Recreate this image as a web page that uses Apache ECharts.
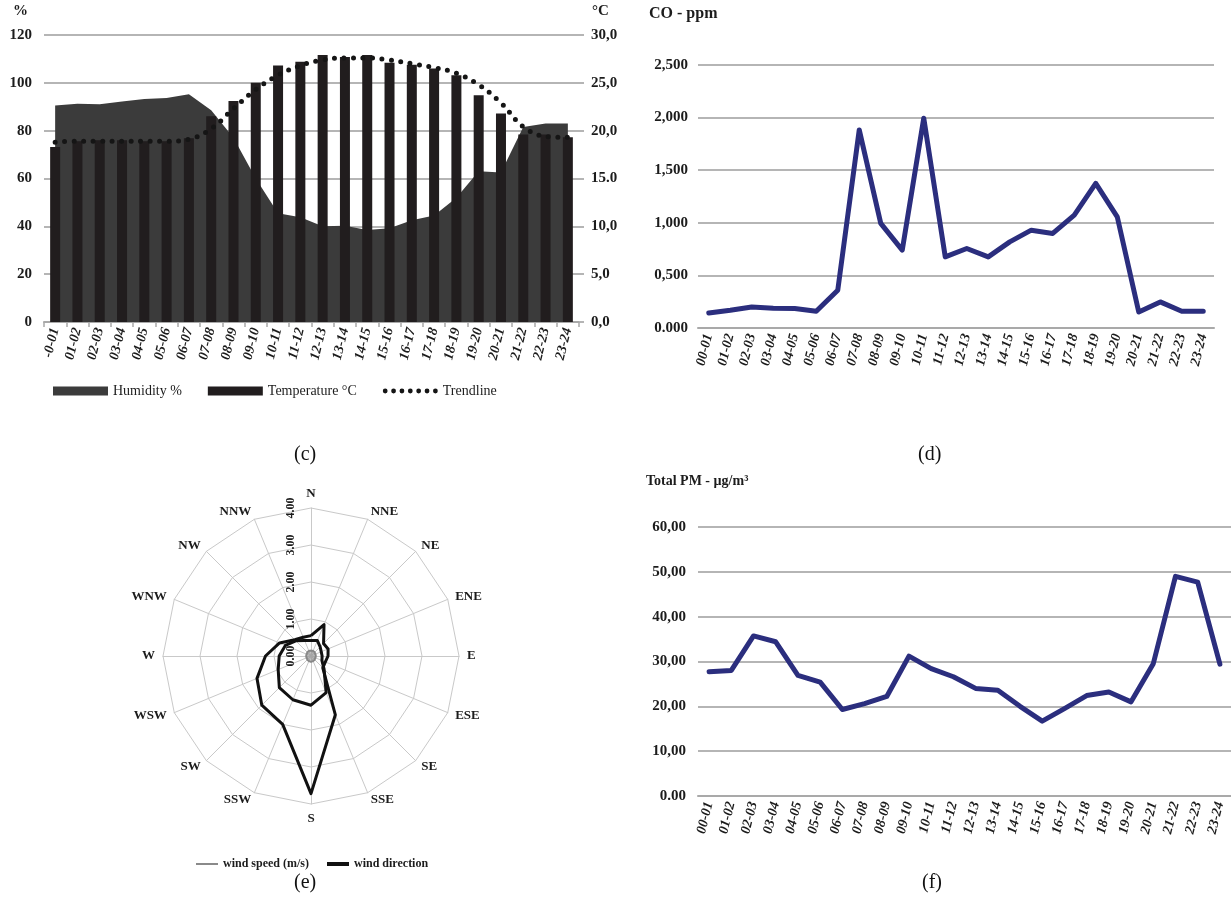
<!DOCTYPE html>
<html>
<head>
<meta charset="utf-8">
<script src="https://cdn.jsdelivr.net/npm/echarts@6/dist/echarts.min.js"></script>
<style>
  html, body { margin: 0; padding: 0; background: #ffffff; }
  #chart { width: 1231px; height: 912px; }
</style>
</head>
<body>
<div id="chart"></div>
<script>
// ---- hourly slots ----
const hourSlotsMeteo = ['-0-01','01-02','02-03','03-04','04-05','05-06','06-07','07-08','08-09','09-10','10-11','11-12',
                        '12-13','13-14','14-15','15-16','16-17','17-18','18-19','19-20','20-21','21-22','22-23','23-24'];
const hourSlots = ['00-01','01-02','02-03','03-04','04-05','05-06','06-07','07-08','08-09','09-10','10-11','11-12',
                   '12-13','13-14','14-15','15-16','16-17','17-18','18-19','19-20','20-21','21-22','22-23','23-24'];

// ---- (c) humidity / temperature ----
const humidity = [90.5, 91.3, 91.0, 92.2, 93.2, 93.7, 95.2, 88.5, 77.0, 60.0, 45.5, 43.8,
                  40.0, 40.2, 38.5, 39.2, 42.5, 44.5, 52.0, 63.0, 62.5, 81.5, 83.0, 83.0];
const temperature = [18.3, 18.9, 19.0, 19.0, 18.9, 18.9, 19.2, 21.5, 23.1, 25.0, 26.8, 27.2,
                     27.9, 27.7, 27.9, 27.1, 26.9, 26.5, 25.8, 23.7, 21.8, 19.6, 19.6, 19.3];
const tempTrend = [18.8, 18.9, 18.9, 18.9, 18.9, 18.9, 19.1, 20.2, 22.3, 24.3, 25.8, 26.8,
                   27.4, 27.6, 27.6, 27.4, 27.0, 26.6, 26.0, 24.8, 22.9, 20.4, 19.4, 19.3];
const humidityTicks = ['0', '20', '40', '60', '80', '100', '120'];
const tempTicks = ['0,0', '5,0', '10,0', '15.0', '20,0', '25,0', '30,0'];

// ---- (d) CO ----
const coPpm = [0.143, 0.169, 0.200, 0.188, 0.185, 0.159, 0.359, 1.883, 0.994, 0.740, 1.994, 0.676,
               0.756, 0.676, 0.819, 0.930, 0.899, 1.073, 1.375, 1.057, 0.152, 0.248, 0.159, 0.159];
const coTicks = ['0.000', '0,500', '1,000', '1,500', '2,000', '2,500'];

// ---- (f) total PM ----
const totalPm = [27.7, 28.0, 35.7, 34.4, 26.9, 25.4, 19.3, 20.6, 22.2, 31.2, 28.4, 26.6,
                 24.0, 23.6, 20.0, 16.7, 19.5, 22.4, 23.2, 21.0, 29.5, 49.0, 47.7, 29.4];
const pmTicks = ['0.00', '10,00', '20,00', '30,00', '40,00', '50,00', '60,00'];

// ---- (e) wind rose (compass order, clockwise from N) ----
const compassPoints = ['N','NNE','NE','ENE','E','ESE','SE','SSE','S','SSW','SW','WSW','W','WNW','NW','NNW'];
const windSpeed   = [0.15, 0.15, 0.14, 0.13, 0.13, 0.13, 0.14, 0.15, 0.16, 0.15, 0.14, 0.13, 0.13, 0.13, 0.14, 0.15];
const windDirOuter = [0.55, 0.92, 0.48, 0.50, 0.46, 0.42, 0.45, 1.72, 3.72, 2.00, 1.88, 1.58, 1.23, 0.92, 0.62, 0.55];
const windDirInner = [0.42, 0.45, 0.35, 0.30, 0.30, 0.32, 0.50, 1.07, 1.33, 1.28, 1.21, 0.96, 0.86, 0.75, 0.58, 0.45];
const radarTicks = ['0.00', '1.00', '2.00', '3.00', '4.00'];

// ---- styling ----
const serif = '"Liberation Serif", "Times New Roman", serif';
const ink = '#1c1c1c';
const gridGray = '#b5b5b5';
const navy = '#2b2e7e';

// radar indicators run counter-clockwise, so walk the compass backwards
const ccwOrder = compassPoints.map((_, i) => (16 - i) % 16);
const ccw = arr => ccwOrder.map(k => arr[k]);

// legend glyphs
function dotRow(n, w, h, r) {
  let p = 'path://M0,0M' + w + ',' + h;
  const step = (w - 2 * r) / (n - 1);
  for (let i = 0; i < n; i++) {
    const cx = r + i * step, cy = h / 2;
    p += 'M' + (cx - r) + ',' + cy + 'a' + r + ',' + r + ' 0 1,0 ' + (2 * r) + ',0a' + r + ',' + r + ' 0 1,0 ' + (-2 * r) + ',0Z';
  }
  return p;
}
function bar(w, h, t) {
  const y0 = (h - t) / 2, y1 = y0 + t;
  return 'path://M0,0M' + w + ',' + h + 'M0,' + y0 + 'L' + w + ',' + y0 + 'L' + w + ',' + y1 + 'L0,' + y1 + 'Z';
}

function tickLabelStyle(labels, extra) {
  return Object.assign({
    color: ink, fontFamily: serif, fontWeight: 'bold', fontSize: 15,
    formatter: (v, i) => labels[i]
  }, extra || {});
}
function hourAxis(gridIndex, cats, ticks) {
  return {
    type: 'category', gridIndex, data: cats,
    axisLine: { show: true, lineStyle: { color: '#a9a9a9', width: 2 } },
    axisTick: { show: ticks, interval: 0, length: 5, lineStyle: { color: '#a9a9a9', width: 1.5 } },
    axisLabel: { interval: 0, rotate: 76, margin: 6, color: ink, fontFamily: serif,
                 fontWeight: 'bold', fontStyle: 'italic', fontSize: 14 },
    splitLine: { show: false }
  };
}

const titleBase = { padding: 0, textStyle: { fontFamily: serif, color: ink, fontWeight: 'bold', fontSize: 15 } };
const caption = (text, left, top) => ({ text, left, top, padding: 0,
  textStyle: { fontFamily: serif, color: '#111', fontWeight: 'normal', fontSize: 20 } });

const option = {
  animation: false,
  backgroundColor: '#ffffff',
  title: [
    Object.assign({ text: '%', left: 13, top: 4 }, titleBase),
    Object.assign({ text: '°C', left: 592, top: 4 }, titleBase),
    Object.assign({}, titleBase, { text: 'CO - ppm', left: 649, top: 6, textStyle: Object.assign({}, titleBase.textStyle, { fontSize: 16 }) }),
    Object.assign({}, titleBase, { text: 'Total PM - µg/m³', left: 646, top: 474, textStyle: Object.assign({}, titleBase.textStyle, { fontSize: 14 }) }),
    caption('(c)', 294, 445),
    caption('(d)', 918, 445),
    caption('(e)', 294, 873),
    caption('(f)', 922, 873)
  ],
  legend: [
    {
      left: 48, top: 379, orient: 'horizontal', selectedMode: false,
      itemWidth: 55, itemHeight: 9, itemGap: 26,
      textStyle: { fontFamily: serif, fontSize: 14, color: ink },
      data: [
        { name: 'Humidity %', icon: 'rect' },
        { name: 'Temperature °C', icon: 'rect' },
        { name: 'Trendline', icon: dotRow(7, 55, 9, 2.4) }
      ]
    },
    {
      left: 191, top: 853, orient: 'horizontal', selectedMode: false,
      itemWidth: 22, itemHeight: 5, itemGap: 18,
      textStyle: { fontFamily: serif, fontSize: 12, fontWeight: 'bold', color: ink },
      data: [
        { name: 'wind speed (m/s)', icon: bar(22, 5, 2), itemStyle: { color: '#8a8a8a' } },
        { name: 'wind direction', icon: bar(22, 5, 4), itemStyle: { color: '#111111' } }
      ]
    }
  ],
  grid: [
    { left: 44, top: 35, width: 535, height: 287, outerBoundsMode: 'none' },
    { left: 698, top: 65, width: 516, height: 263, outerBoundsMode: 'none' },
    { left: 698, top: 527, width: 533, height: 269, outerBoundsMode: 'none' }
  ],
  xAxis: [
    hourAxis(0, hourSlotsMeteo, true),
    hourAxis(1, hourSlots, false),
    hourAxis(2, hourSlots, false)
  ],
  yAxis: [
    { type: 'value', gridIndex: 0, min: 0, max: 120, interval: 20, position: 'left',
      axisLine: { show: false }, axisTick: { show: false },
      axisLabel: tickLabelStyle(humidityTicks, { margin: 12 }),
      splitLine: { show: true, lineStyle: { color: gridGray, width: 2 } } },
    { type: 'value', gridIndex: 0, min: 0, max: 30, interval: 5, position: 'right',
      axisLine: { show: false }, axisTick: { show: true, length: 5, lineStyle: { color: gridGray, width: 2 } },
      axisLabel: tickLabelStyle(tempTicks, { margin: 12 }),
      splitLine: { show: false } },
    { type: 'value', gridIndex: 1, min: 0, max: 2.5, interval: 0.5,
      axisLine: { show: false }, axisTick: { show: false },
      axisLabel: tickLabelStyle(coTicks, { margin: 10 }),
      splitLine: { show: true, lineStyle: { color: gridGray, width: 2 } } },
    { type: 'value', gridIndex: 2, min: 0, max: 60, interval: 10,
      axisLine: { show: false }, axisTick: { show: false },
      axisLabel: tickLabelStyle(pmTicks, { margin: 12 }),
      splitLine: { show: true, lineStyle: { color: gridGray, width: 2 } } }
  ],
  radar: {
    center: [311, 656], radius: 148, startAngle: 90, splitNumber: 4, shape: 'polygon',
    axisNameGap: 8,
    axisName: { color: ink, fontFamily: serif, fontWeight: 'bold', fontSize: 13 },
    axisLine: { lineStyle: { color: '#c9c9c9', width: 1 } },
    splitLine: { lineStyle: { color: '#c9c9c9', width: 1 } },
    splitArea: { show: false },
    axisTick: { show: false },
    axisLabel: { show: false },
    indicator: ccwOrder.map((k, i) => {
      const ind = { name: compassPoints[k], min: 0, max: 4 };
      if (i === 0) {
        ind.axisLabel = { show: true, rotate: 90, margin: 14, color: ink, fontFamily: serif,
                          fontWeight: 'bold', fontSize: 12, formatter: (v) => radarTicks[Math.round(v)] };
      }
      return ind;
    })
  },
  series: [
    { name: 'Humidity %', type: 'line', xAxisIndex: 0, yAxisIndex: 0, data: humidity,
      symbol: 'none', color: '#3b3b3b', lineStyle: { width: 0, color: '#3b3b3b' },
      areaStyle: { color: '#3b3b3b', opacity: 1 }, z: 1 },
    { name: 'Temperature °C', type: 'bar', xAxisIndex: 0, yAxisIndex: 1, data: temperature,
      barWidth: 10, color: '#211d1e', itemStyle: { color: '#211d1e' }, z: 2 },
    { name: 'Trendline', type: 'line', xAxisIndex: 0, yAxisIndex: 1, data: tempTrend,
      symbol: 'none', smooth: 0.4, color: '#151515',
      lineStyle: { color: '#151515', width: 5, type: [0, 9.5], cap: 'round' }, z: 3 },
    { name: 'CO - ppm', type: 'line', xAxisIndex: 1, yAxisIndex: 2, data: coPpm,
      symbol: 'none', lineStyle: { color: navy, width: 5, cap: 'round', join: 'round' }, z: 3 },
    { name: 'Total PM', type: 'line', xAxisIndex: 2, yAxisIndex: 3, data: totalPm,
      symbol: 'none', lineStyle: { color: navy, width: 5, cap: 'round', join: 'round' }, z: 3 },
    { name: 'Wind', type: 'radar', symbol: 'none', z: 3,
      data: [
        { name: 'wind speed (m/s)', value: ccw(windSpeed),
          itemStyle: { color: '#8a8a8a' }, lineStyle: { color: '#8a8a8a', width: 2 },
          areaStyle: { color: 'rgba(130,130,130,0.7)' } },
        { name: 'wind direction', value: ccw(windDirOuter),
          itemStyle: { color: '#111111' }, lineStyle: { color: '#111111', width: 3, join: 'round' } },
        { name: 'wind direction', value: ccw(windDirInner),
          itemStyle: { color: '#111111' }, lineStyle: { color: '#111111', width: 3, join: 'round' } }
      ] }
  ]
};

const chart = echarts.init(document.getElementById('chart'), null, { renderer: 'canvas', width: 1231, height: 912 });
chart.setOption(option);
</script>
</body>
</html>
